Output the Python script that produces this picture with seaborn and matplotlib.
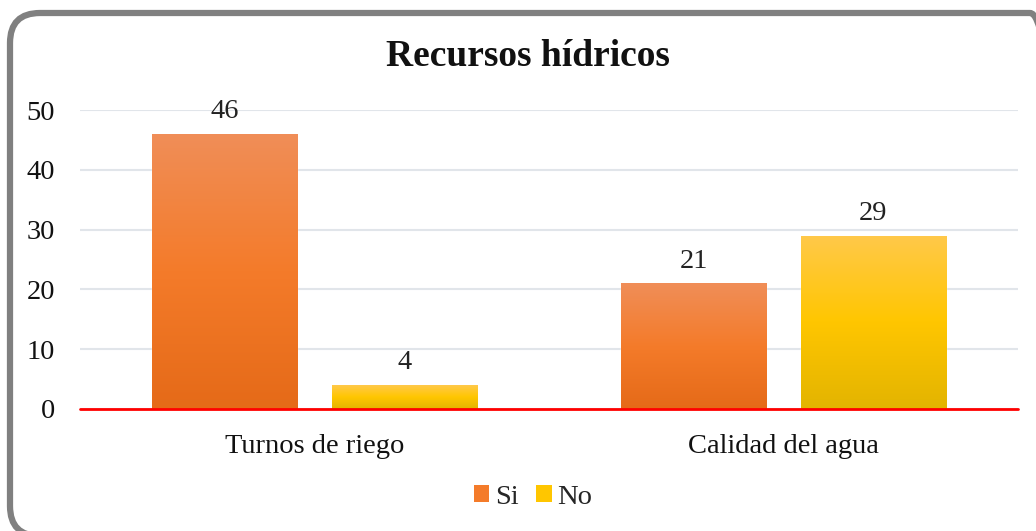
import numpy as np
import pandas as pd
import matplotlib
matplotlib.use("Agg")
import matplotlib.pyplot as plt
from matplotlib.patches import FancyBboxPatch, Patch
from matplotlib.colors import LinearSegmentedColormap
import seaborn as sns

categories = ["Turnos de riego", "Calidad del agua"]
series = ["Si", "No"]
si_values = [46, 21]
no_values = [4, 29]
yticks = [0, 10, 20, 30, 40, 50]
title = "Recursos hídricos"

df = pd.DataFrame({
    "Categoria": categories * 2,
    "Serie": ["Si"] * len(categories) + ["No"] * len(categories),
    "Valor": si_values + no_values,
})

sns.set_theme(style="white")
plt.rcParams["font.family"] = ["Liberation Serif", "DejaVu Serif"]

W, H = 1036, 531
fig = plt.figure(figsize=(W / 100, H / 100), dpi=100)
ax = fig.add_axes([80 / W, 1 - 409 / H, (1018 - 80) / W, (409 - 110) / H])

palette = {"Si": "#F47B2A", "No": "#FFC600"}
sns.barplot(data=df, x="Categoria", y="Valor", hue="Serie", order=categories,
            hue_order=series, palette=palette, width=0.767, gap=0.19,
            ax=ax, legend=False, saturation=1)

grads = {
    "Si": ["#E56A18", "#F47B2A", "#F08E58"],
    "No": ["#E3B400", "#FFC600", "#FFC94A"],
}
ax.set_xlim(-0.5, 1.5)
ax.set_ylim(0, 50)

for container, s in zip(ax.containers, series):
    cmap = LinearSegmentedColormap.from_list(s, grads[s])
    for bar in container:
        x0, y0 = bar.get_x(), bar.get_y()
        w, h = bar.get_width(), bar.get_height()
        grad = np.linspace(0, 1, 256).reshape(-1, 1)
        im = ax.imshow(grad, cmap=cmap, origin="lower", aspect="auto",
                       extent=[x0, x0 + w, y0, y0 + h], zorder=bar.get_zorder() + 0.1)
        im.set_clip_path(bar)
    ax.bar_label(container, fmt="%d", padding=7, fontsize=20.5, color="#222222")

ax.set_xlim(-0.5, 1.5)
ax.set_ylim(0, 50)
ax.set_yticks(yticks)
ax.yaxis.grid(True, color="#E1E5EA", linewidth=1.5)
ax.set_axisbelow(True)
ax.axhline(0, color="#FF0000", linewidth=2, zorder=5, clip_on=False)
for sp in ax.spines.values():
    sp.set_visible(False)
ax.tick_params(axis="y", length=0, pad=18, labelsize=20.5, labelcolor="#111111")
ax.tick_params(axis="x", length=0, pad=18, labelsize=20.5, labelcolor="#111111")
ax.set_xlabel("")
ax.set_ylabel("")

fig.text(528 / W, 1 - 57 / H, title, ha="center", va="center",
         fontsize=27, fontweight="bold", color="#111111")

handles = [Patch(facecolor=palette[s], edgecolor="none") for s in series]
fig.legend(handles, series, loc="center", bbox_to_anchor=(533 / W, 1 - 497 / H),
           ncol=2, frameon=False, fontsize=20.5, handlelength=0.55, handleheight=0.55,
           handletextpad=0.2, columnspacing=0.6)

border = FancyBboxPatch((10, -5), 1050, 523, boxstyle="round,pad=0,rounding_size=30",
                        transform=None, facecolor="none", edgecolor="#808080",
                        linewidth=4.5, zorder=10)
fig.patches.append(border)

fig.savefig("out.png", dpi=100)
